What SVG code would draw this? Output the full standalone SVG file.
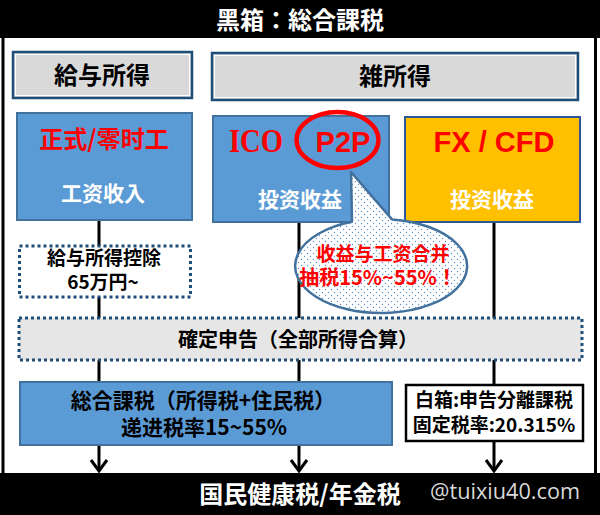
<svg xmlns="http://www.w3.org/2000/svg" width="600" height="515" viewBox="0 0 600 515">
<defs>
<style>
.cjk{font-family:"Noto Sans CJK JP","Noto Sans CJK SC",sans-serif;font-weight:700}
.lat{font-family:"Liberation Sans",Arial,sans-serif;font-weight:700}
.lbl{fill:#d9d9d9;stroke:#1f4e79;stroke-width:2.5}
.lblin{fill:none;stroke:#ffffff;stroke-width:1}
.blue{fill:#5b9bd5;stroke:#41719c;stroke-width:2}
.dotbox{stroke:#1f4e79;stroke-width:3;stroke-dasharray:3 3}
.conn{stroke:#000;stroke-width:3;fill:none}
.red{fill:#ff0000}
.wht{fill:#ffffff}
.blk{fill:#000000}
</style>
<pattern id="dots" width="6" height="6" patternUnits="userSpaceOnUse">
<rect width="6" height="6" fill="#ffffff"/>
<circle cx="1.5" cy="1.5" r="0.7" fill="#5b8fc7"/>
<circle cx="4.5" cy="4.5" r="0.7" fill="#5b8fc7"/>
</pattern>
<marker id="arr" markerUnits="userSpaceOnUse" orient="auto" overflow="visible" refX="0" refY="0" markerWidth="1" markerHeight="1">
<path d="M-11,-8 L0,0 L-11,8" fill="none" stroke="#000" stroke-width="3"/>
</marker>
</defs>

<rect x="0" y="0" width="600" height="515" fill="#ffffff"/>

<g id="frame">
<rect x="0" y="0" width="600" height="38" fill="#000"/>
<rect x="0" y="473" width="600" height="42" fill="#000"/>
<line x1="3" y1="36" x2="3" y2="475" stroke="#000" stroke-width="3"/>
<line x1="595.5" y1="36" x2="595.5" y2="475" stroke="#000" stroke-width="3"/>
<text class="cjk wht" x="300" y="29" font-size="24" text-anchor="middle">黑箱：総合課税</text>
</g>

<g id="connectors">
<line class="conn" x1="99" y1="220" x2="99" y2="246"/>
<line class="conn" x1="99" y1="297" x2="99" y2="319"/>
<line class="conn" x1="99" y1="359" x2="99" y2="382"/>
<line class="conn" x1="99" y1="445" x2="99" y2="471" marker-end="url(#arr)"/>
<line class="conn" x1="299" y1="222" x2="299" y2="319"/>
<line class="conn" x1="299" y1="359" x2="299" y2="382"/>
<line class="conn" x1="299" y1="445" x2="299" y2="471" marker-end="url(#arr)"/>
<line class="conn" x1="494" y1="221" x2="494" y2="319"/>
<line class="conn" x1="494" y1="359" x2="494" y2="385"/>
<line class="conn" x1="494" y1="441" x2="494" y2="471" marker-end="url(#arr)"/>
</g>

<g id="kyuyo-label">
<rect class="lbl" x="13" y="52" width="179" height="46"/>
<rect class="lblin" x="15.5" y="54.5" width="174" height="41"/>
<text class="cjk blk" x="102" y="84" font-size="24" text-anchor="middle">給与所得</text>
</g>

<g id="zatsu-label">
<rect class="lbl" x="212" y="53" width="366" height="47"/>
<rect class="lblin" x="214.5" y="55.5" width="361" height="42"/>
<text class="cjk blk" x="395" y="85" font-size="24" text-anchor="middle">雑所得</text>
</g>

<g id="job">
<rect class="blue" x="17" y="113" width="175" height="107"/>
<text class="cjk red" x="104" y="148" font-size="24" text-anchor="middle">正式/零时工</text>
<text class="cjk wht" x="103" y="201" font-size="21" text-anchor="middle">工资收入</text>
</g>

<g id="ico-p2p">
<rect class="blue" x="213" y="116" width="176" height="106"/>
<text class="red" x="229" y="152" font-family="'Liberation Serif','Times New Roman',serif" font-weight="700" font-size="34" textLength="54" lengthAdjust="spacingAndGlyphs">ICO</text>
<text class="lat red" x="343" y="152" font-size="29" text-anchor="middle">P2P</text>
<ellipse cx="337.5" cy="140" rx="41" ry="28" fill="none" stroke="#ff0000" stroke-width="4.5"/>
<text class="cjk wht" x="300" y="207" font-size="21" text-anchor="middle">投资收益</text>
</g>

<g id="fx-cfd">
<rect x="405" y="117" width="175" height="105" fill="#ffc000" stroke="#2f5597" stroke-width="2"/>
<text class="lat red" x="494" y="152" font-size="29" text-anchor="middle">FX / CFD</text>
<text class="cjk wht" x="492" y="207" font-size="21" text-anchor="middle">投资收益</text>
</g>

<g id="deduction">
<rect class="dotbox" x="19.5" y="246" width="171" height="51" fill="#ffffff"/>
<text class="cjk blk" x="104" y="265" font-size="19" text-anchor="middle">給与所得控除</text>
<text class="cjk blk" x="103" y="289" font-size="19" text-anchor="middle">65万円~</text>
</g>

<g id="callout">
<path d="M352,221.8 L351,172 L392,219.4 A86,47 0 1 1 352,221.8 Z" fill="url(#dots)" stroke="#41719c" stroke-width="2.5" stroke-linejoin="round"/>
<text class="cjk red" x="383" y="261" font-size="19" text-anchor="middle">收益与工资合并</text>
<text class="cjk red" x="378" y="285" font-size="20" text-anchor="middle">抽税15%~55%！</text>
</g>

<g id="kakutei">
<rect class="dotbox" x="19" y="318" width="563" height="42" fill="#e7e6e6"/>
<text class="cjk blk" x="298" y="347" font-size="20" text-anchor="middle">確定申告（全部所得合算）</text>
</g>

<g id="sogo">
<rect class="blue" x="20" y="382" width="372" height="63"/>
<text class="cjk blk" x="203" y="408" font-size="21" text-anchor="middle">総合課税（所得税+住民税）</text>
<text class="cjk blk" x="204" y="435" font-size="21" text-anchor="middle">递进税率15~55%</text>
</g>

<g id="shiro">
<rect x="406" y="385" width="177" height="56" fill="#ffffff" stroke="#000" stroke-width="2.5"/>
<text class="cjk blk" x="494" y="407" font-size="19" text-anchor="middle">白箱:申告分離課税</text>
<text class="cjk blk" x="494" y="432" font-size="19" text-anchor="middle">固定税率:20.315%</text>
</g>

<g id="footer">
<text class="cjk wht" x="300" y="503" font-size="24" text-anchor="middle">国民健康税/年金税</text>
<text x="430" y="499" font-family="'Open Sans','Noto Sans',sans-serif" font-size="21" fill="#d9d9d9" textLength="150" lengthAdjust="spacingAndGlyphs">@tuixiu40.com</text>
</g>
</svg>
